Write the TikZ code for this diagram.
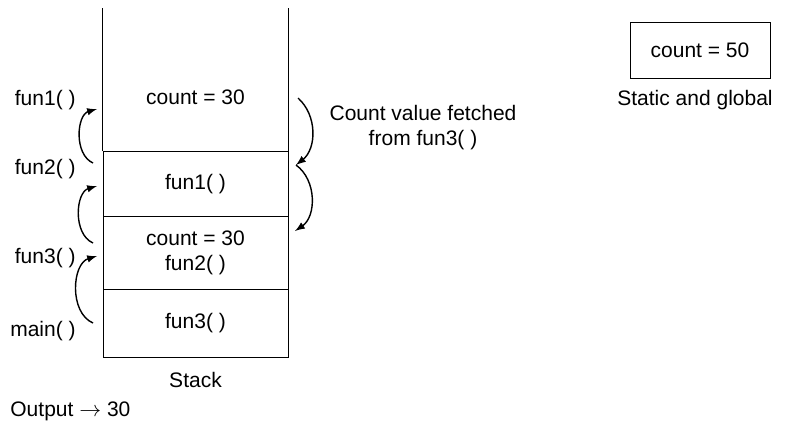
\documentclass[tikz,border=0pt]{standalone}
\usepackage{fontspec}
\setmainfont{Liberation Sans}
\usetikzlibrary{positioning}
\tikzset{
    cell/.style={rectangle, draw, minimum width=92.5pt, inner sep=0pt},
    callarrow/.style={-latex, line width=0.7pt},
}

\begin{document}
\begin{tikzpicture}[x=0.5pt, y=-0.5pt, inner sep=0pt, align=center, font=\fontsize{10.5}{12.5}\selectfont]
    \useasboundingbox (0,0) rectangle (785,425);

    % stack cells
    \node (c1) [cell, minimum height=32.5pt, anchor=north] at (195.5,151) {fun1( )};
    \node (c2) [cell, minimum height=36.5pt, below=-\the\pgflinewidth of c1] {count = 30\\fun2( )};
    \node (c3) [cell, minimum height=34pt, below=-\the\pgflinewidth of c2] {fun3( )};
    \draw (c1.north west) -- ++(0,-143);
    \draw (c1.north east) -- ++(0,-143);
    \node (topval) at (195.5,97) {count = 30};
    \node (stack) [below=7pt of c3] {Stack};
    \node (output) [anchor=west] at (10,411) {Output $\rightarrow$ 30};

    % callers
    \node (f1) [anchor=east] at (76,100) {fun1( )};
    \node (f2) [anchor=east] at (76,169) {fun2( )};
    \node (f3) [anchor=east] at (76,258) {fun3( )};
    \node (mn) [anchor=east] at (76,331) {main( )};

    % static area
    \node (static) [draw, minimum width=70pt, minimum height=28pt] at (700,50) {count = 50};
    \node (staticlbl) at (695,100) {Static and global};

    \node (fetched) at (423,128) {Count value fetched\\from fun3( )};

    % arrows
    \foreach \n/\ys/\ye in {1/163/109, 2/243/186, 3/323/256} {
        \coordinate (up\n s) at (93,\ys);
        \coordinate (up\n e) at (97,\ye);
        \draw [callarrow] (up\n s) to[bend left=70] (up\n e);
    }
    \coordinate (dn1) at (298,98);
    \coordinate (dn2) at (296,165);
    \coordinate (dn3) at (295,231);
    \draw [callarrow] (dn1) to[bend left=50] (dn2);
    \draw [callarrow] (dn2) to[bend left=55] (dn3);
\end{tikzpicture}
\end{document}
